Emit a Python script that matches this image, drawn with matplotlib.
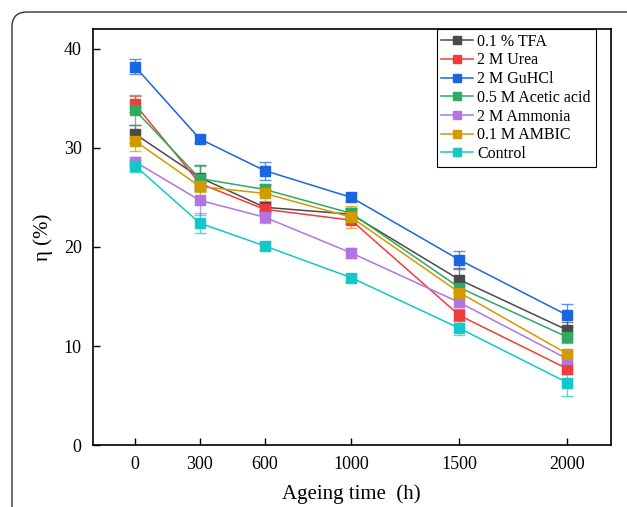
import numpy as np
import matplotlib
matplotlib.use('Agg')
import matplotlib.pyplot as plt
from matplotlib.patches import FancyBboxPatch

time_h = [0, 300, 600, 1000, 1500, 2000]

labels = ['0.1 % TFA', '2 M Urea', '2 M GuHCl', '0.5 M Acetic acid',
          '2 M Ammonia', '0.1 M AMBIC', 'Control']

tfa = [31.4, 27.0, 24.0, 23.3, 16.7, 11.6]
urea = [34.4, 26.4, 23.8, 22.7, 13.1, 7.7]
guhcl = [38.2, 30.9, 27.7, 25.0, 18.7, 13.1]
acetic = [33.8, 26.9, 25.8, 23.4, 15.9, 10.9]
ammonia = [28.6, 24.7, 23.0, 19.4, 14.4, 8.7]
ambic = [30.7, 26.1, 25.4, 23.0, 15.4, 9.2]
control = [28.2, 22.4, 20.1, 16.9, 11.8, 6.3]

tfa_err = [0.9, 1.3, 0.5, 0.6, 1.2, 0.8]
urea_err = [0.8, 0.5, 0.5, 0.4, 0.6, 0.5]
guhcl_err = [0.8, 0.4, 0.9, 0.4, 0.9, 1.1]
acetic_err = [1.5, 1.3, 0.5, 0.5, 0.6, 0.6]
ammonia_err = [0.5, 1.5, 0.6, 0.5, 0.5, 0.5]
ambic_err = [1.0, 0.6, 0.8, 1.1, 0.7, 0.4]
control_err = [0.6, 1.0, 0.4, 0.4, 0.7, 1.3]

series = [tfa, urea, guhcl, acetic, ammonia, ambic, control]
errors = [tfa_err, urea_err, guhcl_err, acetic_err, ammonia_err, ambic_err, control_err]
colors = ['#4a4a4a', '#f23c3c', '#1a66e0', '#2eaa62', '#b274e0', '#d19a00', '#12c8c8']

plt.rcParams['font.family'] = ['Liberation Serif', 'DejaVu Serif']

fig = plt.figure(figsize=(6.27, 5.07), dpi=100)

# rounded outer frame, only left and top edges visible
frame = FancyBboxPatch((0.12, -1.0), 7.0, 5.95,
                       boxstyle='round,pad=0,rounding_size=0.15',
                       transform=fig.dpi_scale_trans, fill=False,
                       edgecolor='#333333', linewidth=1.0)
fig.patches.append(frame)

ax = fig.add_axes([0.148, 0.122, 0.826, 0.821])

for y, e, c in zip(series, errors, colors):
    ax.errorbar(time_h, y, yerr=e, color=c, ecolor=c, elinewidth=1.0,
                capsize=4, capthick=1.0, alpha=0.7, fmt='none')
for y, c, lab in zip(series, colors, labels):
    ax.plot(time_h, y, color=c, linewidth=1.1, marker='s', markersize=7,
            label=lab)

ax.set_xlim(-195, 2200)
ax.set_ylim(0, 42)
ax.set_xticks(time_h)
ax.set_yticks([0, 10, 20, 30, 40])
ax.tick_params(direction='in', length=5, width=1.0, labelsize=13, pad=8)
for s in ax.spines.values():
    s.set_linewidth(1.2)

ax.set_xlabel('Ageing time  (h)', fontsize=15, labelpad=8)
ax.set_ylabel('η (%)', fontsize=15, labelpad=8)

leg = ax.legend(loc='upper right', bbox_to_anchor=(0.971, 1.0),
                borderaxespad=0, fontsize=11.5, fancybox=False,
                framealpha=1, edgecolor='black', handlelength=2.0,
                handletextpad=0.25, labelspacing=0.17, borderpad=0.3,
                markerscale=0.85)
leg.get_frame().set_linewidth(0.8)

fig.savefig('out.png', dpi=100)
